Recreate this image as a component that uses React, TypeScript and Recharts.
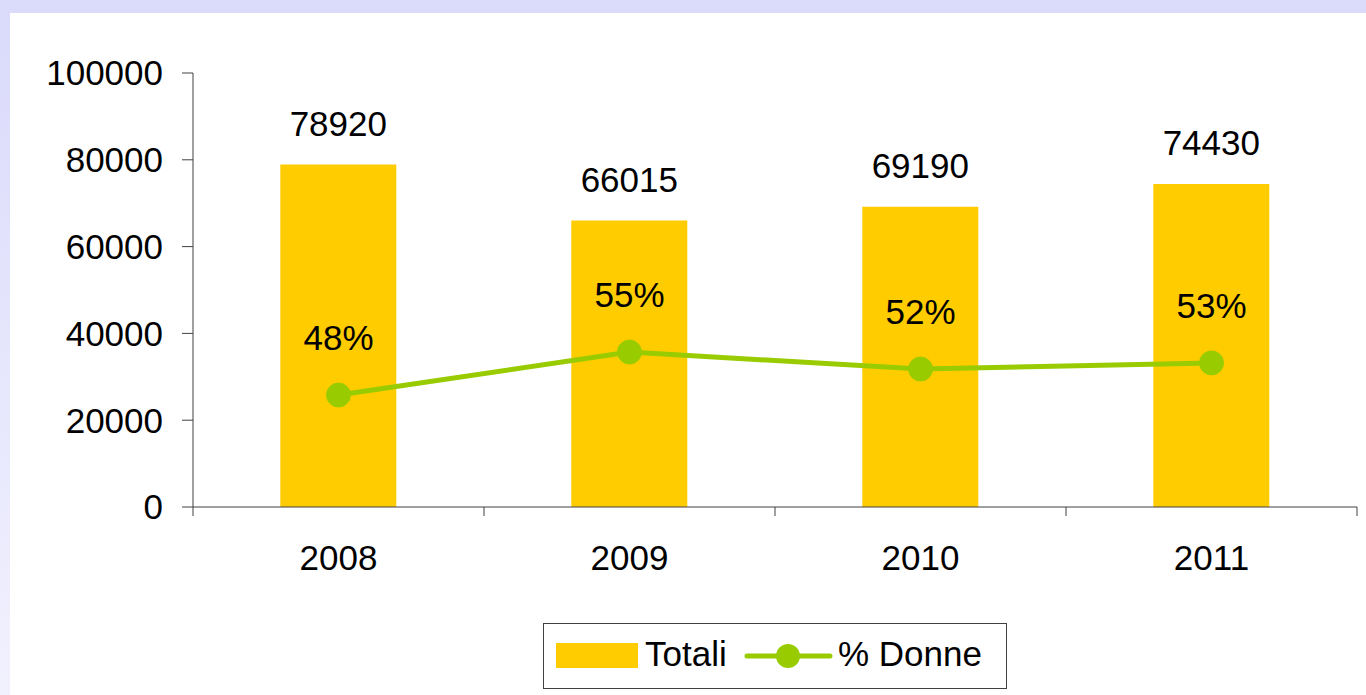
import { ComposedChart, Bar, Line, XAxis, YAxis, Legend, LabelList } from 'recharts';

const years = ['2008', '2009', '2010', '2011'];
const totali = [78920, 66015, 69190, 74430];
// women count as plotted on the same axis
const donne = [25800, 35700, 31800, 33200];
const donnePct = ['48%', '55%', '52%', '53%'];
const yTicks = [0, 20000, 40000, 60000, 80000, 100000];

const data = years.map((y, i) => ({ year: y, totali: totali[i], donne: donne[i], pct: donnePct[i] }));

const FONT = '"Liberation Sans", Arial, sans-serif';
const GOLD = '#FFCC00';
const GREEN = '#99CC00';
const AXIS = '#404040';
const FS = 35;

const XTick = (props: any) => {
  const { x, y, payload, index } = props;
  const off = payload.offset || 0;
  return (
    <g>
      <line x1={x - off} y1={y - 8} x2={x - off} y2={y + 1} stroke={AXIS} strokeWidth={1} />
      {index === years.length - 1 && (
        <line x1={x + off} y1={y - 8} x2={x + off} y2={y + 1} stroke={AXIS} strokeWidth={1} />
      )}
      <text x={x} y={y + 46} textAnchor="middle" dominantBaseline="middle" fontSize={FS} fontFamily={FONT} fill="#000">
        {payload.value}
      </text>
    </g>
  );
};

const BarLabel = (props: any) => {
  const { x, y, width, value } = props;
  return (
    <text x={x + width / 2} y={y - 38} textAnchor="middle" dominantBaseline="middle" fontSize={FS} fontFamily={FONT} fill="#000">
      {value}
    </text>
  );
};

const PctLabel = (props: any) => {
  const { x, y, index } = props;
  return (
    <text x={x} y={y - 54} textAnchor="middle" dominantBaseline="middle" fontSize={FS} fontFamily={FONT} fill="#000">
      {donnePct[index]}
    </text>
  );
};

const LegendBox = () => (
  <div style={{ height: 108, position: 'relative' }}>
    <div
      style={{
        position: 'absolute',
        left: 533,
        top: 36,
        width: 462,
        height: 64,
        border: '1px solid #404040',
        background: '#fff',
        fontFamily: FONT,
        fontSize: FS,
        color: '#000',
      }}
    >
      <div style={{ position: 'absolute', left: 12, top: 19, width: 82, height: 25, background: GOLD }} />
      <div style={{ position: 'absolute', left: 101, top: 11, lineHeight: '38px' }}>Totali</div>
      <svg style={{ position: 'absolute', left: 200, top: 18 }} width={90} height={28}>
        <line x1={3} y1={14} x2={86} y2={14} stroke={GREEN} strokeWidth={5} strokeLinecap="round" />
        <circle cx={44} cy={14} r={12} fill={GREEN} />
      </svg>
      <div style={{ position: 'absolute', left: 294, top: 11, lineHeight: '38px' }}>% Donne</div>
    </div>
  </div>
);

export default function App() {
  return (
    <div
      style={{
        position: 'fixed',
        left: 0,
        top: 0,
        width: 1366,
        height: 695,
        background: 'linear-gradient(to bottom, #DADAFB, #F1F1FE)',
        overflow: 'hidden',
      }}
    >
      <div style={{ position: 'absolute', left: 10, top: 13, width: 1356, height: 682, background: '#fff' }}>
        <ComposedChart
          width={1356}
          height={682}
          data={data}
          margin={{ top: 60, right: 9, left: 0, bottom: 0 }}
          barCategoryGap="30%"
        >
          <XAxis
            dataKey="year"
            axisLine={{ stroke: AXIS }}
            tickLine={false}
            tick={<XTick />}
            height={80}
            interval={0}
          />
          <YAxis
            domain={[0, 100000]}
            ticks={yTicks}
            width={183}
            tickSize={11}
            tickMargin={19}
            axisLine={{ stroke: AXIS }}
            tickLine={{ stroke: AXIS }}
            tick={{ fill: '#000', fontSize: FS, fontFamily: FONT }}
          />
          <Legend verticalAlign="bottom" content={<LegendBox />} wrapperStyle={{ left: 0, width: 1356, height: 108 }} />
          <Bar dataKey="totali" fill={GOLD} isAnimationActive={false}>
            <LabelList dataKey="totali" content={<BarLabel />} />
          </Bar>
          <Line
            dataKey="donne"
            stroke={GREEN}
            strokeWidth={5}
            dot={{ r: 12, fill: GREEN, stroke: GREEN, strokeWidth: 1 }}
            activeDot={false}
            isAnimationActive={false}
          >
            <LabelList dataKey="donne" content={<PctLabel />} />
          </Line>
        </ComposedChart>
      </div>
    </div>
  );
}
